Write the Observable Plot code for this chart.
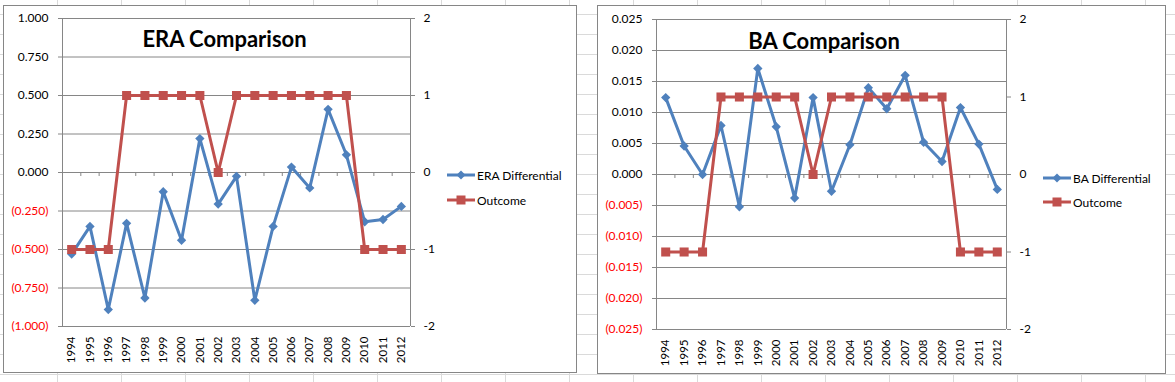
<!DOCTYPE html>
<html><head><meta charset="utf-8">
<script src="https://cdn.jsdelivr.net/npm/d3@7"></script>
<script src="https://cdn.jsdelivr.net/npm/@observablehq/plot@0.6"></script>
<style>
html,body{margin:0;padding:0;background:#fff;}
#sheet{position:relative;width:1175px;height:382px;overflow:hidden;background-color:#fff;
 background-image:linear-gradient(to right,#dadada 1px,transparent 1px),linear-gradient(to bottom,#dadada 1px,transparent 1px);
 background-size:64px 20px;background-position:57px 14px;}
.chart{position:absolute;background:#fff;border:1px solid #868686;box-sizing:border-box;}
.layer{position:absolute;left:0;top:0;}
.title{position:absolute;font-family:Lato,sans-serif;font-weight:bold;font-size:22px;white-space:nowrap;transform:translateX(-50%);line-height:normal;color:#000;}
.leg{position:absolute;display:flex;align-items:center;height:16px;font-family:Lato,sans-serif;font-size:12px;white-space:nowrap;color:#000;}
.leg svg{margin-right:2px;}
</style>
</head>
<body>
<div id="sheet">
  <div class="chart" id="c1" style="left:3px;top:5px;width:574px;height:368px;"></div>
  <div class="chart" id="c2" style="left:597px;top:5px;width:569px;height:369px;"></div>
</div>
<script>
const years = ["1994","1995","1996","1997","1998","1999","2000","2001","2002","2003","2004","2005","2006","2007","2008","2009","2010","2011","2012"];
const eraDiff = [-0.53,-0.35,-0.89,-0.33,-0.815,-0.125,-0.44,0.22,-0.205,-0.025,-0.83,-0.35,0.035,-0.10,0.41,0.115,-0.32,-0.305,-0.22];
const eraOutcome = [-1,-1,-1,1,1,1,1,1,0,1,1,1,1,1,1,1,-1,-1,-1];
const baDiff = [0.0124,0.0046,0.0000,0.0079,-0.0052,0.0171,0.0077,-0.0038,0.0124,-0.0027,0.0048,0.0140,0.0106,0.0160,0.0052,0.0021,0.0108,0.0049,-0.0024];
const baOutcome = [-1,-1,-1,1,1,1,1,1,0,1,1,1,1,1,1,1,-1,-1,-1];
const eraTicks = [-1,-0.75,-0.5,-0.25,0,0.25,0.5,0.75,1];
const baTicks = [-0.025,-0.02,-0.015,-0.01,-0.005,0,0.005,0.01,0.015,0.02,0.025];
const outcomeTicks = [-2,-1,0,1,2];

const BLUE = "#4F81BD", RED = "#C0504D", GRID = "#868686";
const fmtLeft = d => d < 0 ? "(" + (-d).toFixed(3) + ")" : Math.abs(d).toFixed(3);

function makeChart(el, cfg) {
  const n = years.length;
  const rows = years.map((yr, i) => ({i, yr, diff: cfg.diff[i], out: cfg.outcome[i]}));
  const common = {
    width: cfg.width, height: cfg.height,
    marginLeft: cfg.ml, marginRight: cfg.mr, marginTop: cfg.mt, marginBottom: cfg.mb,
    x: {type: "linear", domain: [-0.5, n - 0.5], axis: null},
    style: {fontFamily: "Lato, sans-serif", fontSize: "12px", background: "transparent", overflow: "visible", color: "#000"}
  };
  const p1 = Plot.plot({
    ...common,
    y: {domain: [cfg.ticks[0], cfg.ticks[cfg.ticks.length - 1]], axis: null},
    marks: [
      Plot.ruleY(cfg.ticks, {stroke: GRID, strokeWidth: 1}),
      Plot.ruleX([-0.5], {stroke: GRID}),
      Plot.ruleX(d3.range(-0.5, n + 0.5, 1), {y1: 0, y2: 0, insetBottom: -4, stroke: GRID}),
      Plot.axisY(cfg.ticks.filter(d => d >= 0), {anchor: "left", tickSize: 4, tickPadding: 10, stroke: GRID, fill: "#000", tickFormat: fmtLeft, label: null}),
      Plot.axisY(cfg.ticks.filter(d => d < 0), {anchor: "left", tickSize: 4, tickPadding: 10, stroke: GRID, fill: "#FF0000", tickFormat: fmtLeft, label: null}),
      Plot.axisX(d3.range(n), {anchor: "bottom", tickSize: 0, tickPadding: 10, tickRotate: -90, tickFormat: i => years[i], fill: "#000", fontSize: 11.5, label: null}),
      Plot.line(rows, {x: "i", y: "diff", stroke: BLUE, strokeWidth: 3, strokeLinejoin: "round"}),
      Plot.dot(rows, {x: "i", y: "diff", symbol: "diamond2", r: 4.2, fill: BLUE, stroke: "none"})
    ]
  });
  const p2 = Plot.plot({
    ...common,
    y: {domain: [outcomeTicks[0], outcomeTicks[outcomeTicks.length - 1]], axis: null},
    marks: [
      Plot.ruleX([n - 0.5], {stroke: GRID}),
      Plot.axisY(outcomeTicks, {anchor: "right", tickSize: 4, tickPadding: 9, stroke: GRID, fill: "#000", tickFormat: d => String(d), label: null}),
      Plot.line(rows, {x: "i", y: "out", stroke: RED, strokeWidth: 3, strokeLinejoin: "round"}),
      Plot.dot(rows, {x: "i", y: "out", symbol: "square", r: 5.1, fill: RED, stroke: "none"})
    ]
  });
  p1.classList.add("layer"); p2.classList.add("layer");
  el.appendChild(p1); el.appendChild(p2);

  const t = document.createElement("div");
  t.className = "title"; t.textContent = cfg.title;
  t.style.left = cfg.tx + "px"; t.style.top = cfg.ty + "px";
  el.appendChild(t);

  const legendItems = [
    {label: cfg.diffName, color: BLUE, sym: "diamond", top: cfg.ly1},
    {label: "Outcome", color: RED, sym: "square", top: cfg.ly2}
  ];
  for (const it of legendItems) {
    const d = document.createElement("div");
    d.className = "leg";
    d.style.left = cfg.lx + "px"; d.style.top = it.top + "px";
    const marker = it.sym === "square"
      ? `<rect x="9.5" y="3.5" width="9" height="9" fill="${it.color}"/>`
      : `<path d="M14,3.5L18.5,8L14,12.5L9.5,8Z" fill="${it.color}"/>`;
    d.innerHTML = `<svg width="28" height="16"><line x1="0" x2="28" y1="8" y2="8" stroke="${it.color}" stroke-width="3"/>${marker}</svg><span>${it.label}</span>`;
    el.appendChild(d);
  }
}

makeChart(document.getElementById("c1"), {
  diff: eraDiff, outcome: eraOutcome, ticks: eraTicks, title: "ERA Comparison", diffName: "ERA Differential",
  width: 572, height: 366, ml: 58, mr: 166, mt: 12, mb: 46,
  tx: 220.5, ty: 19, lx: 443, ly1: 161, ly2: 186
});
makeChart(document.getElementById("c2"), {
  diff: baDiff, outcome: baOutcome, ticks: baTicks, title: "BA Comparison", diffName: "BA Differential",
  width: 567, height: 367, ml: 58, mr: 159, mt: 13, mb: 44,
  tx: 226, ty: 21, lx: 445, ly1: 164, ly2: 188
});
</script>
</body></html>
